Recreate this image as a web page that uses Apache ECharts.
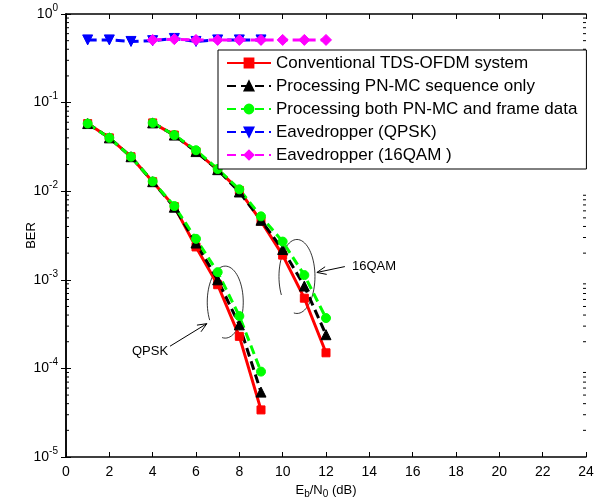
<!DOCTYPE html>
<html>
<head>
<meta charset="utf-8">
<script src="https://cdn.jsdelivr.net/npm/echarts@6/dist/echarts.min.js"></script>
<style>
  html, body { margin: 0; padding: 0; background: #fff; }
  #chart { width: 602px; height: 504px; }
</style>
</head>
<body>
<div id="chart"></div>
<script>
// 横轴刻度
const xTicks = [0, 2, 4, 6, 8, 10, 12, 14, 16, 18, 20, 22, 24]

// QPSK 曲线 (Eb/N0 = 1..9)
const qpskX = [1, 2, 3, 4, 5, 6, 7, 8, 9]
const qpskConv = [0.058, 0.040, 0.0245, 0.0128, 0.0067, 0.00235, 0.00088, 0.00023, 0.000034]
const qpskPn = [0.058, 0.040, 0.0245, 0.0128, 0.0066, 0.0026, 0.00100, 0.00031, 0.000054]
const qpskBoth = [0.058, 0.040, 0.0245, 0.0129, 0.0068, 0.0029, 0.00122, 0.00039, 0.000092]

// 16QAM 曲线 (Eb/N0 = 4..12)
const qamX = [4, 5, 6, 7, 8, 9, 10, 11, 12]
const qamConv = [0.059, 0.043, 0.028, 0.0175, 0.0102, 0.0046, 0.00190, 0.00062, 0.00015]
const qamPn = [0.059, 0.043, 0.028, 0.0175, 0.0098, 0.0047, 0.00220, 0.00085, 0.00024]
const qamBoth = [0.059, 0.043, 0.029, 0.0178, 0.0105, 0.0052, 0.00270, 0.00113, 0.00037]

// 窃听者
const eveQpsk = [0.51, 0.51, 0.49, 0.50, 0.53, 0.49, 0.51, 0.51, 0.51]
const eve16qam = [0.51, 0.52, 0.51, 0.51, 0.51, 0.51, 0.51, 0.51, 0.51]

const names = [
    'Conventional TDS-OFDM system',
    'Processing PN-MC sequence only',
    'Processing both PN-MC and frame data',
    'Eavedropper (QPSK)',
    'Eavedropper (16QAM )'
]

const FONT = '"Liberation Sans", Arial, Helvetica, sans-serif'

function pair(xs, ys) {
    return xs.map((x, i) => [x, ys[i]])
}

// 两组曲线共用同一个图例，所以每条曲线拆成两段（同名）
function curve(name, data, color, dash, symbol, size, rotate) {
    return {
        name: name,
        type: 'line',
        data: data,
        symbol: symbol,
        symbolSize: size,
        symbolRotate: rotate || 0,
        showSymbol: true,
        animation: false,
        itemStyle: { color: color, borderColor: color, borderWidth: 1 },
        lineStyle: { color: color, width: 3, type: dash ? [9, 5] : 'solid' },
        z: 2
    }
}

const series = [
    curve(names[0], pair(qpskX, qpskConv), '#ff0000', false, 'rect', 8),
    curve(names[0], pair(qamX, qamConv), '#ff0000', false, 'rect', 8),
    curve(names[1], pair(qpskX, qpskPn), '#000000', true, 'triangle', 10),
    curve(names[1], pair(qamX, qamPn), '#000000', true, 'triangle', 10),
    curve(names[2], pair(qpskX, qpskBoth), '#00ff00', true, 'circle', 9),
    curve(names[2], pair(qamX, qamBoth), '#00ff00', true, 'circle', 9),
    curve(names[3], pair(qpskX, eveQpsk), '#0000ff', true, 'triangle', 10, 180),
    curve(names[4], pair(qamX, eve16qam), '#ff00ff', true, 'diamond', 11)
]

const myChart = echarts.init(document.querySelector('#chart'))

const axisLine = { show: true, lineStyle: { color: '#000', width: 1.5 } }

const option = {
    animation: false,
    backgroundColor: '#fff',
    textStyle: { fontFamily: FONT },
    grid: { left: 66, right: 16, top: 14, bottom: 46 },
    legend: {
        data: names,
        orient: 'vertical',
        left: 218,
        top: 50,
        padding: [3, 9, 4, 8],
        itemGap: 3,
        itemWidth: 44,
        itemHeight: 11,
        backgroundColor: '#fff',
        borderColor: '#000',
        borderWidth: 1,
        borderRadius: 0,
        textStyle: { fontSize: 17, lineHeight: 20, color: '#000', fontFamily: FONT }
    },
    xAxis: [{
        type: 'value',
        min: 0,
        max: 24,
        interval: 2,
        name: '{n|E}{s|b}{n|/N}{s|0}{n| (dB)}',
        nameLocation: 'middle',
        nameGap: 24,
        nameMoveOverlap: false,
        nameTextStyle: {
            rich: {
                n: { fontSize: 13, color: '#000', fontFamily: FONT },
                s: { fontSize: 10, color: '#000', fontFamily: FONT, verticalAlign: 'bottom', padding: [8, 0, 0, 0] }
            }
        },
        axisLine: axisLine,
        axisTick: { show: true, inside: true, length: 5, lineStyle: { color: '#000' } },
        axisLabel: { fontSize: 14, color: '#000', margin: 8, fontFamily: FONT },
        splitLine: { show: false }
    }, {
        type: 'value',
        position: 'top',
        min: 0,
        max: 24,
        interval: 2,
        axisLine: axisLine,
        axisTick: { show: true, inside: true, length: 5, lineStyle: { color: '#000' } },
        axisLabel: { show: false },
        splitLine: { show: false }
    }],
    yAxis: [{
        type: 'log',
        logBase: 10,
        min: 1e-5,
        max: 1,
        name: 'BER',
        nameLocation: 'middle',
        nameGap: 28,
        nameMoveOverlap: false,
        nameTextStyle: { fontSize: 13, color: '#000', fontFamily: FONT },
        axisLine: axisLine,
        axisTick: { show: true, inside: true, length: 5, lineStyle: { color: '#000' } },
        axisLabel: {
            margin: 8,
            formatter: function (v) {
                const e = Math.round(Math.log10(v))
                return '{b|10}{e|' + e + '}'
            },
            rich: {
                b: { fontSize: 14, color: '#000', fontFamily: FONT },
                e: { fontSize: 10, color: '#000', fontFamily: FONT, verticalAlign: 'top', padding: [0, 0, 12, 0] }
            }
        },
        splitLine: { show: false }
    }, {
        type: 'log',
        logBase: 10,
        min: 1e-5,
        max: 1,
        position: 'right',
        axisLine: axisLine,
        axisTick: { show: true, inside: true, length: 5, lineStyle: { color: '#000' } },
        axisLabel: { show: false },
        splitLine: { show: false }
    }],
    series: series
}

myChart.setOption(option)

// 对数轴的小刻度（2..9）以及椭圆、箭头标注
function decorations() {
    const els = []
    const leftX = myChart.convertToPixel({ xAxisIndex: 0 }, 0)
    const rightX = myChart.convertToPixel({ xAxisIndex: 0 }, 24)
    for (let k = -5; k < 0; k++) {
        for (let m = 2; m <= 9; m++) {
            const py = myChart.convertToPixel({ yAxisIndex: 0 }, m * Math.pow(10, k))
            els.push({ type: 'line', shape: { x1: leftX, y1: py, x2: leftX + 3, y2: py }, style: { stroke: '#000', lineWidth: 1 }, silent: true })
            els.push({ type: 'line', shape: { x1: rightX, y1: py, x2: rightX - 3, y2: py }, style: { stroke: '#000', lineWidth: 1 }, silent: true })
        }
    }

    function px(x, y) {
        return myChart.convertToPixel({ xAxisIndex: 0, yAxisIndex: 0 }, [x, y])
    }

    function ellipse(c, rx, ry, a0, a1) {
        const pts = []
        for (let a = a0; a >= a1; a -= 5) {
            const r = a * Math.PI / 180
            pts.push([c[0] + rx * Math.cos(r), c[1] + ry * Math.sin(r)])
        }
        els.push({ type: 'polyline', shape: { points: pts }, style: { stroke: '#000', lineWidth: 0.8, fill: null }, silent: true })
    }

    function arrow(tail, tip) {
        els.push({ type: 'line', shape: { x1: tail[0], y1: tail[1], x2: tip[0], y2: tip[1] }, style: { stroke: '#000', lineWidth: 1 }, silent: true })
        const ang = Math.atan2(tail[1] - tip[1], tail[0] - tip[0])
        const h = 10
        const p1 = [tip[0] + h * Math.cos(ang + 0.4), tip[1] + h * Math.sin(ang + 0.4)]
        const p2 = [tip[0] + h * Math.cos(ang - 0.4), tip[1] + h * Math.sin(ang - 0.4)]
        els.push({ type: 'polyline', shape: { points: [p1, tip, p2] }, style: { stroke: '#000', lineWidth: 1, fill: null }, silent: true })
    }

    // QPSK
    const cq = px(7.35, 5.6e-4)
    ellipse(cq, 18, 36, 100, -210)
    arrow(px(4.8, 1.78e-4), px(6.5, 3.2e-4))
    const tq = px(3.88, 1.56e-4)
    els.push({ type: 'text', x: tq[0], y: tq[1], style: { text: 'QPSK', font: '13px ' + FONT, fill: '#000', textAlign: 'center', textVerticalAlign: 'middle' }, silent: true })

    // 16QAM
    const c16 = px(10.66, 1.09e-3)
    ellipse(c16, 18, 37, 100, -210)
    arrow(px(12.87, 1.41e-3), px(11.58, 1.21e-3))
    const t16 = px(13.2, 1.41e-3)
    els.push({ type: 'text', x: t16[0], y: t16[1], style: { text: '16QAM', font: '13px ' + FONT, fill: '#000', textAlign: 'left', textVerticalAlign: 'middle' }, silent: true })

    myChart.setOption({ graphic: { elements: els } })
}
decorations()
</script>
</body>
</html>
